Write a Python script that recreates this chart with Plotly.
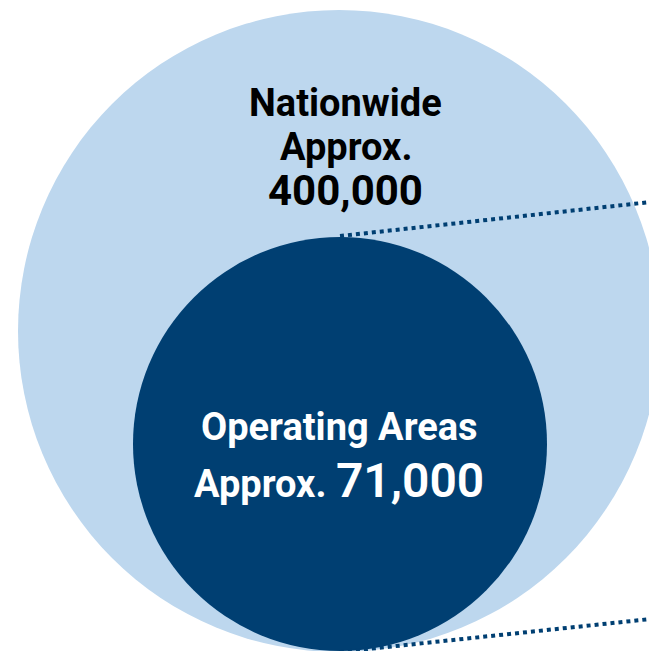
import plotly.graph_objects as go

# data
group_names = ["Nationwide", "Operating Areas"]
group_values = ["400,000", "71,000"]
prefix = "Approx."

# layout (pixel-like coordinates, y down)
W, H = 649, 651
LIGHT = "#BDD7EE"
DARK = "#003F72"
FONT = "Roboto"

outer = dict(cx=339, cy=331, r=321)
inner = dict(cx=340, cy=444, r=207)

fig = go.Figure()

# callout lines from the inner circle out to the right edge
top_line = dict(x=[340, 660], y=[236, 201])
bot_line = dict(x=[340, 660], y=[652, 618])
for ln in (top_line, bot_line):
    fig.add_trace(go.Scatter(x=ln["x"], y=ln["y"], mode="lines",
                             line=dict(color=DARK, width=4, dash="dot"),
                             hoverinfo="skip", showlegend=False))

for c, col in ((outer, LIGHT), (inner, DARK)):
    fig.add_shape(type="circle", xref="x", yref="y", layer="below",
                  x0=c["cx"] - c["r"], x1=c["cx"] + c["r"],
                  y0=c["cy"] - c["r"], y1=c["cy"] + c["r"],
                  fillcolor=col, line=dict(width=0))

# outer labels
fig.add_annotation(x=345, y=103, text="<b>%s</b>" % group_names[0], showarrow=False,
                   font=dict(family=FONT, size=38, color="black"))
fig.add_annotation(x=346, y=147, text="<b>%s</b>" % prefix, showarrow=False,
                   font=dict(family=FONT, size=38, color="black"))
fig.add_annotation(x=345, y=190, text="<b>%s</b>" % group_values[0], showarrow=False,
                   font=dict(family=FONT, size=42, color="black"))

# inner labels
fig.add_annotation(x=339, y=427, text="<b>%s</b>" % group_names[1], showarrow=False,
                   font=dict(family=FONT, size=38, color="white"))
fig.add_annotation(x=339, y=480,
                   text="<b>%s <span style='font-size:48px;font-weight:600'>%s</span></b>"
                        % (prefix, group_values[1]),
                   showarrow=False, font=dict(family=FONT, size=38, color="white"))

fig.update_xaxes(range=[0, W], visible=False, fixedrange=True)
fig.update_yaxes(range=[H, 0], visible=False, fixedrange=True)
fig.update_layout(width=W, height=H, margin=dict(l=0, r=0, t=0, b=0),
                  plot_bgcolor="white", paper_bgcolor="white")

fig.write_html("out.html", config={"displayModeBar": False},
               post_script="document.body.style.margin='0';")
